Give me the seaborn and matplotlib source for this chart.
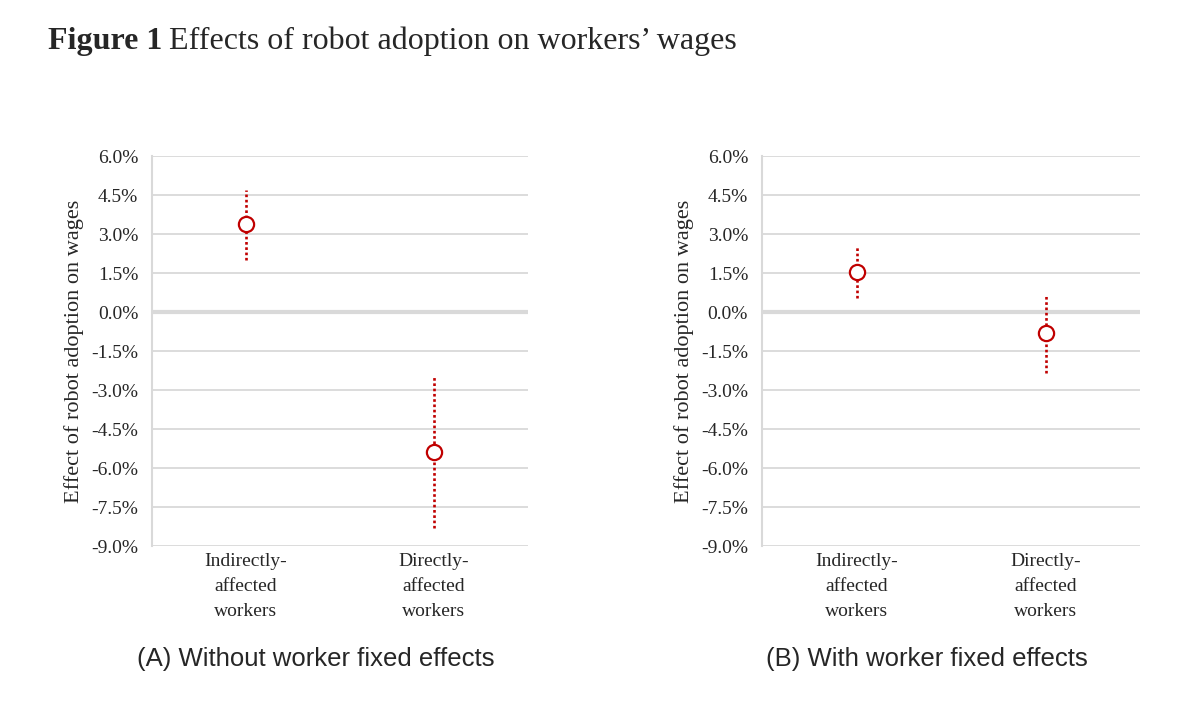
import numpy as np
import pandas as pd
import matplotlib
matplotlib.use("Agg")
import matplotlib.pyplot as plt
import seaborn as sns

# Data (percent)
groups = ["Indirectly-\naffected\nworkers", "Directly-\naffected\nworkers"]
est_a = [3.4, -5.4]
lo_a = [2.0, -8.3]
hi_a = [4.7, -2.45]
est_b = [1.55, -0.8]
lo_b = [0.55, -2.35]
hi_b = [2.5, 0.6]

yticks = [6.0, 4.5, 3.0, 1.5, 0.0, -1.5, -3.0, -4.5, -6.0, -7.5, -9.0]
ytick_labels = ["%.1f%%" % v for v in yticks]
panel_titles = ["(A) Without worker fixed effects", "(B) With worker fixed effects"]
ylabel = "Effect of robot adoption on wages"

sns.set_style("white")
plt.rcParams["font.family"] = ["Liberation Serif", "DejaVu Serif"]

red = "#C00000"
grid_col = "#D9D9D9"

fig = plt.figure(figsize=(12, 7.05), dpi=100)
ax_a = fig.add_axes([0.1267, 0.2255, 0.3133, 0.5532])
ax_b = fig.add_axes([0.635, 0.2255, 0.315, 0.5532])

panels = [(ax_a, est_a, lo_a, hi_a), (ax_b, est_b, lo_b, hi_b)]
for i, (ax, est, lo, hi) in enumerate(panels):
    df = pd.DataFrame({"group": groups, "est": est, "lo": lo, "hi": hi})
    xpos = np.arange(len(groups))
    ax.vlines(xpos, df["lo"], df["hi"], colors=red, linestyles=(0, (1, 1.0)),
              linewidth=1.9, zorder=3)
    sns.scatterplot(x=xpos, y=df["est"], ax=ax, s=120, marker="o",
                    facecolor="white", edgecolor=red, linewidth=1.6, zorder=4)
    ax.set_xlim(-0.5, len(groups) - 0.5)
    ax.set_ylim(-9, 6)
    ax.set_yticks(yticks)
    ax.set_yticklabels(ytick_labels, fontsize=14)
    ax.set_xticks(xpos)
    ax.set_xticklabels(groups, fontsize=14, linespacing=1.6)
    ax.tick_params(axis="both", length=0)
    ax.tick_params(axis="y", pad=10)
    ax.tick_params(axis="x", pad=5)
    ax.yaxis.grid(True, color=grid_col, linewidth=1.3, zorder=0)
    ax.axhline(0, color=grid_col, linewidth=3, zorder=1)
    for s in ["top", "right", "bottom"]:
        ax.spines[s].set_visible(False)
    ax.spines["left"].set_color(grid_col)
    ax.spines["left"].set_linewidth(1.5)
    ax.set_ylabel(ylabel, fontsize=16, labelpad=5)
    ax.set_xlabel("")
    ax.text(0.435, -0.26, panel_titles[i], transform=ax.transAxes,
            ha="center", va="top", fontsize=18.5, family=["Liberation Sans", "DejaVu Sans"])

# Title: bold "Figure 1" followed by regular text
t1 = fig.text(0.04, 0.93, "Figure 1", fontsize=23, fontweight="bold", va="baseline")
fig.canvas.draw()
bb = t1.get_window_extent(renderer=fig.canvas.get_renderer())
fig.text(bb.x1 / fig.bbox.width + 0.006, 0.93, "Effects of robot adoption on workers\u2019 wages",
         fontsize=23, va="baseline")

fig.savefig("out.png", dpi=100)
